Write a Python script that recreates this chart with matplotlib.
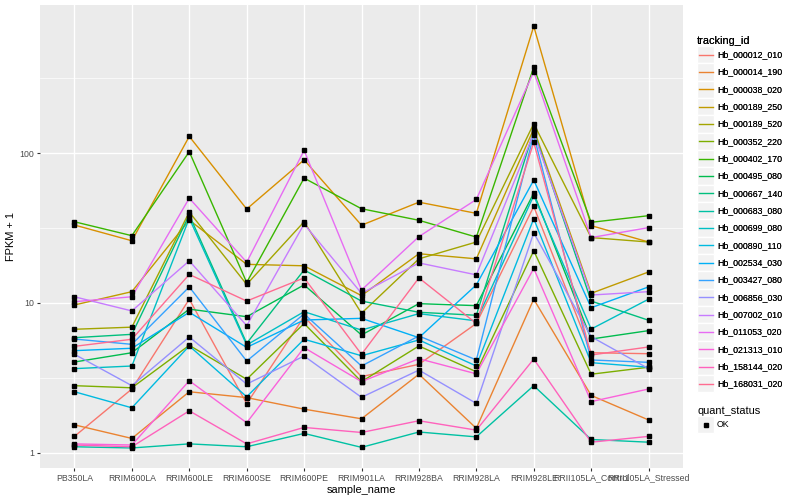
import numpy as np
import matplotlib
matplotlib.use("Agg")
import matplotlib.pyplot as plt
from matplotlib.lines import Line2D
from matplotlib.patches import Rectangle
from matplotlib.legend_handler import HandlerBase

plt.rcParams['font.family'] = ['Liberation Sans', 'DejaVu Sans']

# x categories
samples = ["PB350LA", "RRIM600LA", "RRIM600LE", "RRIM600SE", "RRIM600PE",
           "RRIM901LA", "RRIM928BA", "RRIM928LA", "RRIM928LE",
           "RRII105LA_Control", "RRII105LA_Stressed"]

tracking_ids = ["Hb_000012_010", "Hb_000014_190", "Hb_000038_020", "Hb_000189_250",
                "Hb_000189_520", "Hb_000352_220", "Hb_000402_170", "Hb_000495_080",
                "Hb_000667_140", "Hb_000683_080", "Hb_000699_080", "Hb_000890_110",
                "Hb_002534_030", "Hb_003427_080", "Hb_006856_030", "Hb_007002_010",
                "Hb_011053_020", "Hb_021313_010", "Hb_158144_020", "Hb_168031_020"]

# ggplot hue palette, 20 levels
colors = ["#F8766D", "#EA8331", "#D89000", "#C09B00", "#A3A500", "#7CAE00",
          "#39B600", "#00BB4E", "#00BF7D", "#00C1A3", "#00BFC4", "#00BAE0",
          "#00B0F6", "#35A2FF", "#9590FF", "#C77CFF", "#E76BF3", "#FA62DB",
          "#FF62BC", "#FF6C91"]

# FPKM + 1 per sample
hb_000012_010 = [1.29, 2.67, 10.6, 2.13, 8.1, 3.23, 3.9, 7.3, 44, 4.66, 4.59]
hb_000014_190 = [1.54, 1.25, 2.56, 2.34, 1.96, 1.69, 3.35, 1.46, 10.6, 2.42, 1.66]
hb_000038_020 = [33.1, 26.0, 129, 42.3, 90, 33.0, 47, 39.6, 700, 32.8, 25.5]
hb_000189_250 = [9.7, 11.9, 35.7, 18.1, 17.7, 11.2, 21.3, 19.7, 145, 11.6, 16.1]
hb_000189_520 = [6.68, 6.9, 40.4, 13.3, 34.8, 8.54, 19.7, 25.5, 157, 27.3, 25.5]
hb_000352_220 = [2.81, 2.72, 5.22, 3.1, 7.3, 2.99, 5.17, 3.48, 22.3, 3.35, 3.73]
hb_000402_170 = [34.8, 28.1, 102, 13.7, 68, 42.5, 35.6, 27.5, 373, 34.5, 38.2]
hb_000495_080 = [4.04, 4.66, 9.1, 8.1, 13.2, 6.12, 9.9, 9.6, 54, 5.75, 6.54]
hb_000667_140 = [5.87, 6.18, 38.6, 5.38, 16.6, 10.3, 8.67, 8.28, 140, 10.3, 7.67]
hb_000683_080 = [1.10, 1.08, 1.15, 1.10, 1.35, 1.09, 1.38, 1.28, 2.81, 1.23, 1.18]
hb_000699_080 = [3.65, 3.8, 36.7, 5.25, 8.75, 6.6, 8.49, 7.6, 52, 6.7, 10.6]
hb_000890_110 = [2.56, 2.0, 5.17, 2.37, 5.73, 4.45, 5.67, 3.8, 36.5, 4.0, 3.73]
hb_002534_030 = [4.81, 4.99, 8.67, 5.06, 7.7, 7.9, 5.87, 13.2, 66, 9.3, 12.8]
hb_003427_080 = [5.75, 5.3, 12.8, 4.1, 8.45, 3.8, 6.03, 4.17, 132, 4.17, 4.02]
hb_006856_030 = [4.55, 2.81, 5.93, 2.88, 4.43, 2.35, 3.57, 2.14, 29.4, 5.96, 3.65]
hb_007002_010 = [11.0, 8.85, 19.1, 7.06, 33.6, 11.6, 18.5, 15.4, 135, 11.3, 11.9]
hb_011053_020 = [10.2, 11.0, 50, 18.7, 104, 12.2, 27.7, 49, 348, 27.3, 31.8]
hb_021313_010 = [1.15, 1.13, 3.03, 1.59, 5.04, 2.99, 4.25, 3.37, 17.0, 2.2, 2.67]
hb_158144_020 = [1.13, 1.10, 1.91, 1.15, 1.48, 1.37, 1.64, 1.42, 4.23, 1.18, 1.29]
hb_168031_020 = [5.14, 5.73, 15.5, 10.3, 14.7, 4.55, 14.7, 7.3, 118, 4.5, 5.09]

series = [hb_000012_010, hb_000014_190, hb_000038_020, hb_000189_250, hb_000189_520,
          hb_000352_220, hb_000402_170, hb_000495_080, hb_000667_140, hb_000683_080,
          hb_000699_080, hb_000890_110, hb_002534_030, hb_003427_080, hb_006856_030,
          hb_007002_010, hb_011053_020, hb_021313_010, hb_158144_020, hb_168031_020]


# legend key like ggplot: grey box with the glyph on top
class KeyHandler(HandlerBase):
    def create_artists(self, legend, orig_handle, xdescent, ydescent,
                       width, height, fontsize, trans):
        bg = Rectangle((-xdescent, -ydescent), width, height,
                       facecolor="#F2F2F2", edgecolor="white", lw=1.0,
                       transform=trans)
        yc = -ydescent + height / 2
        if orig_handle.get_linestyle() in ("None", "none", ""):
            glyph = Line2D([-xdescent + width / 2], [yc], marker="s", ms=2.7,
                           color="black", ls="none", transform=trans)
        else:
            glyph = Line2D([-xdescent + 0.1 * width, -xdescent + 0.9 * width], [yc, yc],
                           color=orig_handle.get_color(), lw=1.0, transform=trans)
        return [bg, glyph]


fig = plt.figure(figsize=(8, 5), dpi=100)
ax = fig.add_axes([40 / 800, 1 - 468 / 500, (683 - 40) / 800, (468 - 5) / 500])
ax.set_facecolor("#EBEBEB")

x = np.arange(len(samples))
for vals, col in zip(series, colors):
    ax.plot(x, vals, color=col, lw=1.0, zorder=3)
    ax.plot(x, vals, marker="s", ms=2.7, ls="none", color="black", zorder=4)

ax.set_yscale("log")
ax.set_ylim(0.794, 970)
ax.set_xlim(-0.6, len(samples) - 0.4)
ax.set_yticks([1, 10, 100])
ax.set_yticklabels(["1", "10", "100"])
ax.set_yticks([10 ** 0.5, 10 ** 1.5, 10 ** 2.5], minor=True)
ax.yaxis.set_minor_formatter(plt.NullFormatter())
ax.set_xticks(x)
ax.set_xticklabels(samples)

ax.grid(which="major", color="white", lw=1.0)
ax.grid(which="minor", axis="y", color="white", lw=0.5)
ax.set_axisbelow(True)
for s in ax.spines.values():
    s.set_visible(False)
ax.tick_params(which="major", length=2.0, width=0.8, color="#333333",
               labelsize=6.34, labelcolor="#4D4D4D", pad=2.0)
ax.tick_params(which="minor", length=0)

ax.set_xlabel("sample_name", fontsize=7.92, labelpad=2)
ax.set_ylabel("FPKM + 1", fontsize=7.92, labelpad=3)

legend_kw = dict(loc="upper left", bbox_transform=fig.transFigure,
                 frameon=False, alignment="left",
                 fontsize=6.34, title_fontsize=7.92,
                 handlelength=1.96, handleheight=2.65, labelspacing=0,
                 handletextpad=0.3, borderpad=0, borderaxespad=0,
                 handler_map={Line2D: KeyHandler()})

handles = [Line2D([], [], color=c) for c in colors]
leg1 = fig.legend(handles, tracking_ids, title="tracking_id",
                  bbox_to_anchor=(697 / 800, 1 - 36 / 500), **legend_kw)
fig.add_artist(leg1)

ok_handle = [Line2D([], [], marker="s", ls="none", color="black")]
leg2 = fig.legend(ok_handle, ["OK"], title="quant_status",
                  bbox_to_anchor=(697 / 800, 1 - 406 / 500), **legend_kw)

fig.savefig("out.png", dpi=100, facecolor="white")
